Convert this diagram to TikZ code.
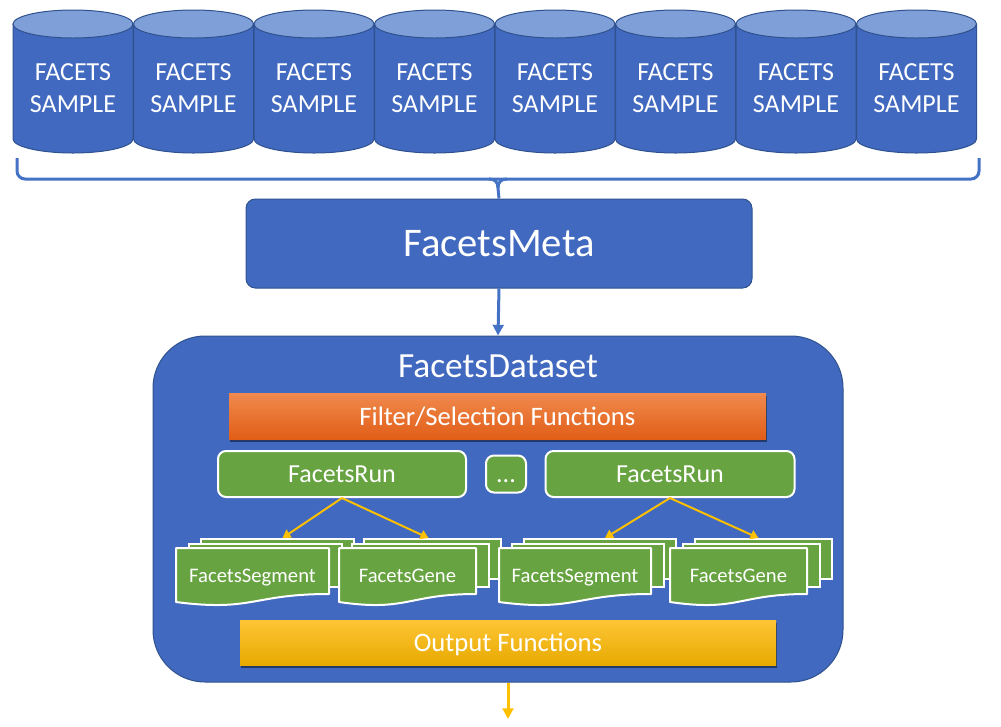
\documentclass[tikz,border=0pt]{standalone}
\usepackage{fontspec}
\setmainfont{Carlito}
\usetikzlibrary{arrows.meta,shadows}
\definecolor{cylblue}{HTML}{4169BF}
\definecolor{cyltop}{HTML}{7F9FD8}
\definecolor{edgeblue}{HTML}{2F528F}
\definecolor{lineblue}{HTML}{4472C4}
\definecolor{grn}{HTML}{67A340}
\definecolor{gold}{HTML}{FFC000}
\definecolor{orT}{HTML}{F08A4E}
\definecolor{orM}{HTML}{F47321}
\definecolor{orB}{HTML}{E15E17}
\definecolor{goT}{HTML}{FFC535}
\definecolor{goM}{HTML}{FFC000}
\definecolor{goB}{HTML}{E6AA00}
\newcommand\docstack[4]{%
  \node[sheet, minimum width=#3*0.75pt, minimum height=40*0.75pt, anchor=north west] (#1b) at (#2+24,538) {};
  \node[sheet, minimum width=#3*0.75pt, minimum height=43*0.75pt, anchor=north west] (#1m) at (#2+12,543) {};
  \filldraw[fill=grn, draw=white, line width=1.5pt, line join=round]
    (#2,548) -- (#2+#3,548) -- (#2+#3,594)
    .. controls (#2+0.5*#3,594) and (#2+0.5*#3,612) .. (#2,602) -- cycle;
  \node[doclbl] (#1) at (#2+0.5*#3,582) {#4};
}
\begin{document}
\begin{tikzpicture}[x=0.75pt,y=-0.75pt,
  samp/.style={text=white, align=center, font=\fontsize{19.5}{24}\selectfont, text depth=0pt},
  cylbody/.style={fill=cylblue, draw=edgeblue, line width=0.75pt},
  cylcap/.style={fill=cyltop, draw=edgeblue, line width=0.75pt},
  bracel/.style={draw=lineblue, line width=2.25pt},
  bluearr/.style={draw=lineblue, line width=2.25pt, -{Triangle[width=8pt,length=8pt]}},
  goldarr/.style={draw=gold, line width=1.5pt, -{Triangle[width=7pt,length=6pt]}},
  goldbig/.style={draw=gold, line width=2.25pt, -{Triangle[width=8pt,length=8pt]}},
  metabox/.style={draw=edgeblue, line width=0.75pt, fill=cylblue, rounded corners=7pt,
    minimum width=379.5pt, minimum height=66.75pt, text=white, font=\fontsize{30.5}{36}\selectfont, text depth=0pt},
  dsbox/.style={draw=edgeblue, line width=0.75pt, fill=cylblue, rounded corners=39pt,
    minimum width=517.5pt, minimum height=259.5pt},
  barbox/.style={minimum height=34.5pt, text=white, font=\fontsize{20}{24}\selectfont, text depth=0pt,
    drop shadow={shadow xshift=1pt, shadow yshift=-2pt, opacity=0.45, fill=black}},
  runbox/.style={draw=white, line width=1.5pt, fill=grn, rounded corners=6pt, minimum height=34.5pt,
    text=white, font=\fontsize{19.5}{24}\selectfont, text depth=0pt},
  sheet/.style={draw=white, line width=1.5pt, fill=grn},
  doclbl/.style={anchor=base, text=white, font=\fontsize{15.5}{18}\selectfont, inner sep=0pt}
]
\useasboundingbox (0,0) rectangle (1001,726);

% cylinders
\foreach \i in {1,...,8}{
  \pgfmathsetmacro\cx{73+120.5*(\i-1)}
  \path[cylbody] ({\cx-60},24) -- ({\cx-60},139)
     .. controls ({\cx-60},146.7) and ({\cx-33.1},153) .. (\cx,153)
     .. controls ({\cx+33.1},153) and ({\cx+60},146.7) .. ({\cx+60},139)
     -- ({\cx+60},24) -- cycle;
  \path[cylcap] ({\cx-60},24)
     .. controls ({\cx-60},16.27) and ({\cx-33.1},10) .. (\cx,10)
     .. controls ({\cx+33.1},10) and ({\cx+60},16.27) .. ({\cx+60},24)
     .. controls ({\cx+60},31.73) and ({\cx+33.1},38) .. (\cx,38)
     .. controls ({\cx-33.1},38) and ({\cx-60},31.73) .. ({\cx-60},24) -- cycle;
  \node[samp] (s\i) at (\cx,88.5) {FACETS\\SAMPLE};
}

% FacetsMeta
\node[metabox] (meta) at (499,243.5) {FacetsMeta};

% brace
\draw[bracel, rounded corners=6pt] (17,158) -- (17,179) -- (979,179) -- (979,158);
\coordinate (bl) at (489,179);
\coordinate (br) at (507,179);
\coordinate (bstem) at (498,188);
\draw[bracel] (bl) .. controls (495,179) and (498,182) .. (bstem) -- (meta.north);
\draw[bracel] (br) .. controls (501,179) and (498,182) .. (bstem);

% FacetsDataset
\node[dsbox] (ds) at (498,509) {};
\draw[bluearr] (meta.south) -- (ds.north);
\node[anchor=base, text=white, font=\fontsize{26.5}{30}\selectfont] (dstitle) at (498,377) {FacetsDataset};

\node[barbox, minimum width=402.75pt, top color=orT, middle color=orM, bottom color=orB] (filt) at (497.5,416) {Filter/Selection Functions};

\node[runbox, minimum width=186pt] (run1) at (342,474) {FacetsRun};
\node[runbox, minimum width=30pt, minimum height=27.75pt, inner sep=0pt, text height=12.5pt] (dots) at (506,474) {...};
\node[runbox, minimum width=186.75pt] (run2) at (670,474) {FacetsRun};

\docstack{seg1}{176}{153}{FacetsSegment}
\docstack{gene1}{339}{137}{FacetsGene}
\docstack{seg2}{499}{152}{FacetsSegment}
\docstack{gene2}{670}{137}{FacetsGene}

\draw[goldarr] (run1.south) -- ([xshift=3.75pt]seg1b.north);
\draw[goldarr] (run1.south) -- ([xshift=-3pt]gene1b.north);
\draw[goldarr] (run2.south) -- ([xshift=3.75pt]seg2b.north);
\draw[goldarr] (run2.south) -- ([xshift=-3.75pt]gene2b.north);

\node[barbox, minimum height=33.75pt, minimum width=402pt, top color=goT, middle color=goM, bottom color=goB] (outf) at (508,642.5) {Output Functions};

\coordinate (outend) at (508,719);
\draw[goldbig] (outf.south |- ds.south) -- (outend);
\end{tikzpicture}
\end{document}
